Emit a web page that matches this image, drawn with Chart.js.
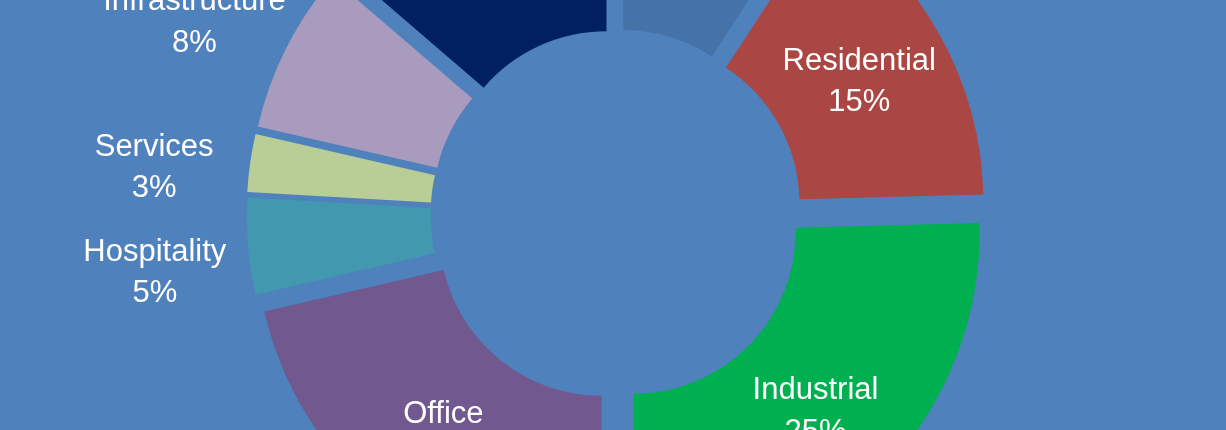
<!DOCTYPE html>
<html>
<head>
<meta charset="utf-8">
<script src="https://cdn.jsdelivr.net/npm/chart.js@4/dist/chart.umd.min.js"></script>
<style>
  html, body { margin: 0; padding: 0; background: #4f81bd; overflow: hidden; }
  canvas { display: block; }
</style>
</head>
<body>
<canvas id="c" width="1226" height="430"></canvas>
<script>
// ---- data ----
const categories = ['Other', 'Residential', 'Industrial', 'Office', 'Hospitality', 'Services', 'Infrastructure', 'Retail'];
const shares = [9.2, 15.4, 25.4, 21.4, 4.5, 2.7, 7.7, 13.7];
const sliceColors = ['#4572A7', '#AA4643', '#00B050', '#71588F', '#4198AF', '#B9CD96', '#A99BBD', '#002060'];

const EXPLODE = 96; // Chart.js arc offset (translation = offset / 4)

// keep exploded slices at the same radius and full angle
// (Chart.js grows and narrows small exploded arcs)
const explodeFix = {
  id: 'explodeFix',
  afterUpdate(chart) {
    const meta = chart.getDatasetMeta(0);
    meta.data.forEach(el => {
      const off = ((el.options && el.options.offset) || EXPLODE) / 4;
      const c = el.endAngle - el.startAngle;
      const ro = off * (1 - Math.sin(Math.min(Math.PI, c)));
      const R = el.outerRadius;
      el.outerRadius -= ro;
      el.innerRadius -= ro;
      const d = ro / Math.PI / R / 2;
      el.startAngle -= d;
      el.endAngle += d;
    });
  }
};

const sliceLabels = {
  id: 'sliceLabels',
  afterDatasetsDraw(chart) {
    const ctx = chart.ctx;
    const meta = chart.getDatasetMeta(0);
    const ctrl = meta.controller;
    const total = shares.reduce((a, b) => a + b, 0);
    const shift = EXPLODE / 4;
    const midR = (ctrl.innerRadius + ctrl.outerRadius) / 2;
    const outR = ctrl.outerRadius + 119;
    const lineGap = 20.85;
    const nudge = 2.5;
    ctx.save();
    ctx.fillStyle = '#ffffff';
    ctx.font = '31px "Liberation Sans", Arial, Helvetica, sans-serif';
    ctx.textAlign = 'center';
    ctx.textBaseline = 'middle';
    meta.data.forEach((el, i) => {
      const pct = shares[i] / total * 100;
      const half = (el.startAngle + el.endAngle) / 2;
      let x, y;
      if (pct >= 9) {
        x = el.x + Math.cos(half) * (shift + midR);
        y = el.y + Math.sin(half) * (shift + midR);
      } else {
        const a = half - 2 * Math.PI / 180;
        x = el.x + Math.cos(a) * outR;
        y = el.y + Math.sin(a) * outR;
      }
      y += nudge;
      ctx.fillText(categories[i], x, y - lineGap);
      ctx.fillText(Math.round(pct + 1e-6) + '%', x, y + lineGap);
    });
    ctx.restore();
  }
};

new Chart(document.getElementById('c'), {
  type: 'doughnut',
  data: {
    labels: categories,
    datasets: [{
      data: shares,
      backgroundColor: sliceColors,
      borderWidth: 0,
      offset: EXPLODE,
      hoverOffset: 0
    }]
  },
  options: {
    responsive: false,
    animation: false,
    events: [],
    radius: 346,
    cutout: '46.8%',
    layout: { padding: { left: 7, right: 0, top: 0, bottom: 0 } },
    plugins: {
      legend: { display: false },
      tooltip: { enabled: false },
      title: { display: false }
    }
  },
  plugins: [explodeFix, sliceLabels]
});
</script>
</body>
</html>
